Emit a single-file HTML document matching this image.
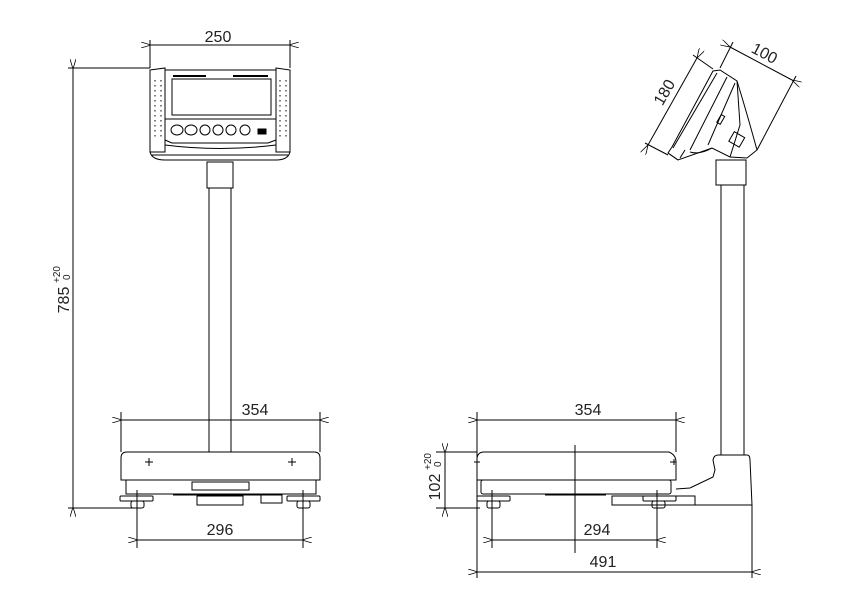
<!DOCTYPE html>
<html><head><meta charset="utf-8"><style>
html,body{margin:0;padding:0;background:#fff;}
svg{display:block}
text{font-family:"Liberation Sans",sans-serif;fill:#222;font-size:16px}
</style></head><body>
<svg width="850" height="610" viewBox="0 0 850 610" xmlns="http://www.w3.org/2000/svg">
<defs>
<marker id="a" viewBox="0 0 10 6" refX="0" refY="3" markerWidth="10" markerHeight="6" orient="auto-start-reverse" markerUnits="userSpaceOnUse"><path d="M10,0 L0,3 L10,6" fill="none" stroke="#000" stroke-width="0.8"/></marker>
</defs>
<g stroke="#000" stroke-width="1" fill="none">
<!-- LEFT VIEW -->
<!-- 250 dim -->
<line x1="150" y1="40" x2="150" y2="68"/><line x1="290" y1="40" x2="290" y2="68"/>
<line x1="151" y1="45" x2="289" y2="45" marker-start="url(#a)" marker-end="url(#a)"/>
<!-- head -->
<path d="M150,70 L165,68 L165,152 L150,152 Z"/>
<path d="M276,68 L290,70 L290,152 L276,152 Z"/>
<path d="M165,70 L276,70"/>
<rect x="172" y="79" width="99" height="36"/>
<line x1="173" y1="76" x2="206" y2="76" stroke-width="2"/>
<line x1="233" y1="76" x2="268" y2="76" stroke-width="2"/>
<line x1="165" y1="119" x2="276" y2="119"/>
<ellipse cx="177" cy="130" rx="6" ry="5"/><ellipse cx="191" cy="130" rx="6" ry="5"/>
<ellipse cx="205" cy="130" rx="5" ry="5"/><ellipse cx="218" cy="130" rx="5" ry="5"/>
<ellipse cx="231" cy="130" rx="5" ry="5"/><ellipse cx="245" cy="130" rx="5" ry="5"/>
<rect x="258" y="129" width="8" height="5" fill="#000"/>
<path d="M165,140 L172,143 L268,143 L276,140"/>
<path d="M165,145 Q220,152 276,145"/>
<path d="M150,152 Q152,160 165,160 L276,160 Q288,160 290,152"/>
<path d="M152,155 L288,155"/>
<g stroke-dasharray="1.5 3.5"><line x1="155" y1="80" x2="155" y2="140"/><line x1="161" y1="80" x2="161" y2="140"/><line x1="280" y1="80" x2="280" y2="140"/><line x1="286" y1="80" x2="286" y2="140"/></g>
<!-- column -->
<rect x="207" y="162" width="26" height="26"/>
<line x1="209" y1="188" x2="209" y2="452"/><line x1="231" y1="188" x2="231" y2="452"/>
<!-- 785 dim -->
<line x1="73" y1="69" x2="73" y2="507" marker-start="url(#a)" marker-end="url(#a)"/>
<line x1="68" y1="68" x2="150" y2="68"/><line x1="68" y1="508" x2="135" y2="508"/>
<!-- 354 dim -->
<line x1="121" y1="412" x2="121" y2="452"/><line x1="320" y1="412" x2="320" y2="452"/>
<line x1="122" y1="420" x2="319" y2="420" marker-start="url(#a)" marker-end="url(#a)"/>
<!-- base -->
<path d="M121,480 L121,458 Q121,452 127,452 L314,452 Q320,452 320,458 L320,480 Z"/>
<path d="M145,462 h8 M149,458 v8 M288,462 h8 M292,458 v8"/>
<rect x="126" y="480" width="190" height="14"/>
<rect x="192" y="482" width="57" height="8"/>
<line x1="173" y1="495" x2="261" y2="495"/>
<rect x="197" y="496" width="46" height="9"/>
<rect x="261" y="495" width="21" height="8"/>
<rect x="120" y="496" width="33" height="5" rx="1"/>
<rect x="131" y="501" width="13" height="7" rx="2"/>
<rect x="287" y="496" width="33" height="5" rx="1"/>
<rect x="297" y="501" width="13" height="7" rx="2"/>
<!-- 296 dim -->
<line x1="137" y1="490" x2="137" y2="548"/><line x1="303" y1="490" x2="303" y2="548"/>
<line x1="138" y1="540" x2="302" y2="540" marker-start="url(#a)" marker-end="url(#a)"/>

<!-- RIGHT VIEW -->
<!-- head rotated -->
<path d="M672,147 L713,71 L720,70 L737,81 Q746,110 757,150 L747,158 L730,157 L712,148 L678,160 L668,153 Z"/>
<path d="M717,73 L673,148"/><path d="M727,77 L690,150"/><path d="M735,83 L708,145"/>
<path d="M737,81 L740,125 L730,157"/>
<path d="M668,153 L678,160 M685,150 L680,158 M690,152 Q700,155 712,148"/>
<rect x="731" y="134" width="12" height="11" transform="rotate(30 737 139)"/>
<rect x="719" y="115" width="4" height="9" transform="rotate(30 721 119)"/>
<!-- 180 dim -->
<line x1="697" y1="58" x2="648" y2="145" marker-start="url(#a)" marker-end="url(#a)"/>
<line x1="693" y1="55" x2="713" y2="69"/><line x1="645" y1="143" x2="668" y2="155"/>
<!-- 100 dim -->
<line x1="730" y1="47" x2="792" y2="80" marker-start="url(#a)" marker-end="url(#a)"/>
<line x1="733" y1="42" x2="720" y2="68"/><line x1="796" y1="76" x2="757" y2="150"/>
<!-- column -->
<rect x="716" y="160" width="30" height="25"/>
<line x1="721" y1="185" x2="721" y2="455"/><line x1="744" y1="185" x2="744" y2="455"/>
<path d="M676,489 L690,488 L713,477 L715,470 L713,460 Q714,455 718,455 L747,455 Q750,455 750,460 L752,505"/>
<rect x="612" y="496" width="83" height="9"/>
<line x1="660" y1="505" x2="752" y2="505"/>
<!-- base -->
<path d="M477,480 L477,458 Q478,452 484,452 L669,452 Q676,455 676,462 L676,480 Z"/>
<path d="M474,462 h6 M670,462 h6 M674,459 v6"/>
<rect x="481" y="480" width="190" height="14" rx="2"/>
<line x1="545" y1="495" x2="606" y2="495"/>
<rect x="477" y="496" width="33" height="5" rx="1"/>
<rect x="487" y="501" width="13" height="7" rx="2"/>
<rect x="643" y="496" width="33" height="5" rx="1"/>
<rect x="652" y="501" width="13" height="7" rx="2"/>
<line x1="575" y1="445" x2="575" y2="553"/>
<!-- 102 dim -->
<line x1="436" y1="452" x2="477" y2="452"/><line x1="436" y1="508" x2="480" y2="508"/>
<line x1="445" y1="453" x2="445" y2="507" marker-start="url(#a)" marker-end="url(#a)"/>
<!-- 354 -->
<line x1="477" y1="412" x2="477" y2="578"/><line x1="676" y1="412" x2="676" y2="452"/>
<line x1="478" y1="420" x2="675" y2="420" marker-start="url(#a)" marker-end="url(#a)"/>
<!-- 294 -->
<line x1="492" y1="490" x2="492" y2="548"/><line x1="657" y1="490" x2="657" y2="548"/>
<line x1="493" y1="540" x2="656" y2="540" marker-start="url(#a)" marker-end="url(#a)"/>
<!-- 491 -->
<line x1="752" y1="505" x2="752" y2="578"/>
<line x1="478" y1="572" x2="751" y2="572" marker-start="url(#a)" marker-end="url(#a)"/>
</g>
<text x="218" y="42" text-anchor="middle">250</text>
<text x="255" y="415" text-anchor="middle">354</text>
<text x="220" y="535" text-anchor="middle">296</text>
<text x="588" y="415" text-anchor="middle">354</text>
<text x="597" y="535" text-anchor="middle">294</text>
<text x="603" y="567" text-anchor="middle">491</text>
<g transform="translate(69,300) rotate(-90)"><text x="0" y="0" text-anchor="middle">785</text><text x="17" y="-9" font-size="10" style="font-size:10px">+20</text><text x="20" y="1" style="font-size:10px">0</text></g>
<g transform="translate(440,487) rotate(-90)"><text x="0" y="0" text-anchor="middle">102</text><text x="17" y="-9" style="font-size:10px">+20</text><text x="20" y="1" style="font-size:10px">0</text></g>
<text transform="translate(669,95) rotate(-60)" text-anchor="middle">180</text>
<text transform="translate(762,58) rotate(28)" text-anchor="middle">100</text>
</svg>
</body></html>
